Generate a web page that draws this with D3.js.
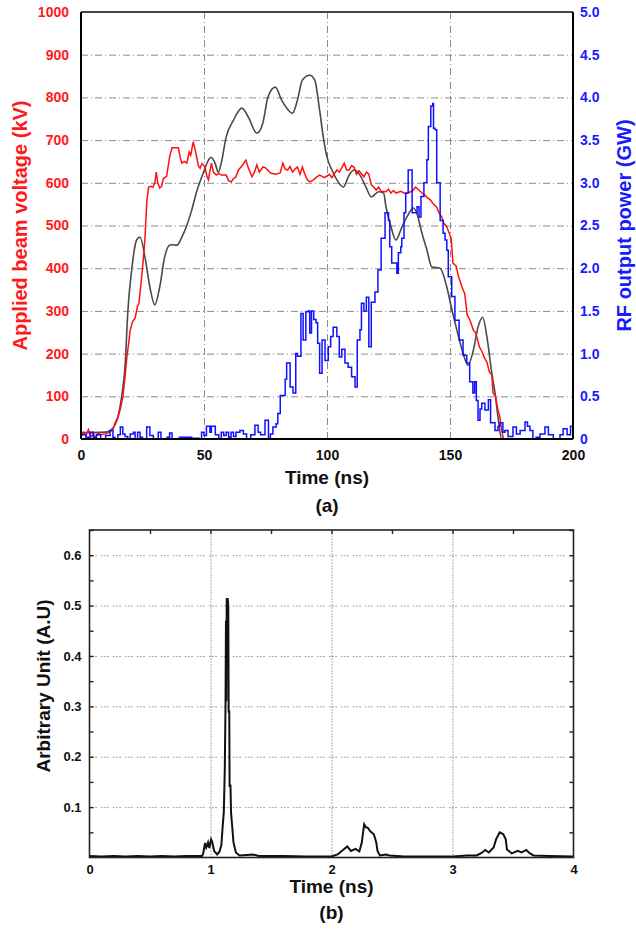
<!DOCTYPE html>
<html>
<head>
<meta charset="utf-8">
<script src="https://cdn.jsdelivr.net/npm/d3@7"></script>
<style>
  body { margin: 0; background: #fff; }
  text { font-family: "Liberation Sans", Arial, sans-serif; font-weight: bold; }
</style>
</head>
<body>
<svg id="chart" width="636" height="929"></svg>
<script>
// (a) beam voltage [ns, kV]
var voltage = [[0,5],[1,15],[2,8],[3,22],[4,5],[5,12],[6,3],[7,15],[8,10],[10,12],[12,18],[13,22],[14,40],[15,50],[16,70],[17,98],[18,150],[18.6,190],[19.5,230],[20,255],[21,275],[22,283],[23,312],[23.5,316],[24.5,370],[25.3,419],[26,470],[26.8,560],[27.5,590],[28.5,592],[29.3,590],[30,600],[30.6,625],[31.2,600],[32,588],[32.8,592],[33.5,610],[34.8,615],[36,660],[37,682],[38,682],[39.6,682],[40.3,660],[41,646],[42,650],[43,646],[44,672],[44.6,665],[45.6,696],[46.3,680],[47,661],[47.7,640],[48.4,634],[49.2,645],[50.4,637],[51.2,615],[51.8,607],[52.5,630],[53,646],[53.8,625],[55,618],[56,622],[57,618],[59,618],[60,605],[61,602],[62,610],[63,614],[64,630],[65.5,640],[67,653],[68,635],[69.5,614],[70.5,625],[71.5,642],[72.5,625],[74,637],[75,635],[77,623],[79,620],[81,623],[82,646],[83,632],[84,630],[85,638],[86,625],[87,632],[88,637],[89,620],[90,637],[91,620],[92,607],[93,602],[94.5,607],[95.5,612],[96.5,616],[97,618],[99,612],[101,620],[102,612],[104,630],[105,625],[106,635],[107,646],[108,630],[109,630],[110,640],[111,637],[112,620],[113,628],[115,614],[116,625],[117,620],[118,595],[119,590],[120,583],[121,590],[122,580],[124,579],[125,585],[126,576],[127,582],[128,576],[130,580],[132,574],[134,579],[135,582],[136,590],[137,585],[138.6,576],[140,570],[141,564],[142,560],[143,552],[144.6,543],[145.5,530],[146.7,520],[147.5,505],[148.7,497],[149.5,485],[150.5,470],[151.2,412],[152.5,405],[153.5,380],[155,354],[156,340],[157,290],[158,280],[159.5,255],[160.5,248],[162,215],[163,205],[164,190],[165,180],[166,157],[167,150],[167.5,108],[168.5,100],[169.5,68],[170.3,50],[171,21],[171.7,0],[200,0]];

// (a) grey trace, left axis [ns, kV]
var greyTrace = [[0,15],[5,15],[10,16],[12,20],[14,35],[15,52],[16.5,98],[18,178],[19,295],[20.6,396],[22.6,466],[24,473],[26,426],[28,356],[30,314],[32,356],[34,426],[36,454],[37,455],[39,454],[41,473],[43,500],[45,536],[47,579],[49.7,623],[51.8,653],[52.8,660],[54.5,646],[55.8,625],[57,646],[59,707],[62,747],[65.4,775],[68,754],[71.5,716],[74,742],[76,801],[79,824],[81.5,794],[83.6,775],[86,763],[88,794],[90,841],[93,852],[95,841],[97,770],[98.5,707],[100,660],[102,630],[104,607],[106.6,590],[109,618],[111,630],[113.4,618],[116,588],[118,567],[121,579],[123,576],[124,543],[126,497],[128,466],[130.5,497],[132.5,520],[135,541],[136.5,529],[138.6,482],[140.6,443],[142.6,403],[146,400],[148.7,356],[150.8,302],[152.8,255],[155.3,201],[157.3,173],[159.5,208],[161.4,262],[163.3,285],[165,239],[167,154],[168.3,108],[169.5,52],[171,0],[200,0]];

// (a) RF output power [ns, GW]
var rfPower = [[0,0.05],[2,0.02],[3.7,0.08],[5,0.02],[6.3,0.05],[8,0],[10,0.04],[11.8,0.1],[13,0.02],[13.8,0],[15,0.05],[16,0.14],[17,0.06],[17.9,0.03],[19,0],[20,0.06],[21.3,0.08],[22,0],[23,0.08],[24,0.02],[25,0],[26.7,0.14],[28,0.04],[29.4,0],[31.4,0.08],[32.5,0],[35,0.02],[36,0.07],[37,0],[40,0.02],[45,0.01],[48,0],[49,0.08],[50,0.04],[51,0.15],[52.4,0.08],[53,0.15],[54.6,0.05],[56,0],[57,0.08],[58,0.04],[59,0.08],[60,0.02],[61,0.08],[62,0.03],[63,0.08],[64.6,0.1],[66,0.06],[67.3,0],[69,0.05],[70.7,0.16],[72,0.08],[73,0.05],[74.8,0.22],[76.2,0],[77,0.06],[78,0.14],[79.3,0.18],[80,0.3],[81,0.51],[82,0.51],[83,0.7],[83.6,0.89],[85,0.61],[86.2,0.54],[87.3,1.0],[88,0.97],[89.4,1.47],[90.3,1.16],[91.4,1.49],[92.3,1.5],[93,1.24],[93.7,1.5],[94.6,1.4],[95.5,1.36],[96.2,1.12],[97,0.77],[98,1.16],[99.2,0.92],[100.5,1.08],[101.5,1.2],[102.5,1.31],[104,1.2],[105,0.96],[106,1.05],[107.3,0.89],[108.6,0.84],[110,0.73],[111.4,0.61],[112.3,1.16],[113.4,1.28],[114,1.59],[115,1.5],[116,1.66],[117,1.08],[118,1.6],[119.5,1.72],[120.7,1.98],[122,2.35],[123.6,2.65],[125,2.56],[125.5,2.25],[126.3,2.06],[128.4,1.94],[129,2.18],[130,2.25],[130.4,2.35],[131.3,2.65],[132,2.88],[133,3.15],[134,3.15],[134.6,2.65],[135.8,2.65],[136.6,2.72],[137.4,2.6],[138.2,2.84],[139.4,3.0],[140.6,3.27],[141.2,3.66],[142.2,3.9],[143,3.93],[143.3,3.64],[143.9,3.62],[144.6,3.0],[146,2.56],[147.2,2.41],[148,2.33],[148.7,2.21],[149.3,1.9],[150.7,1.67],[152,1.39],[153.7,1.16],[155.3,0.98],[156.8,0.89],[158,0.67],[159.3,0.54],[160,0.67],[160.7,0.45],[161.4,0.22],[162.2,0.35],[162.9,0.42],[164.2,0.34],[165.6,0.46],[166.5,0.19],[168.3,0.1],[169.5,0.15],[170.3,0.19],[171.5,0.08],[172.3,0.1],[173.6,0.03],[175.6,0.14],[177,0.06],[178.5,0.1],[180.5,0.2],[181.5,0.15],[182.5,0.1],[183.7,0],[185,0.02],[186.6,0.06],[188.6,0.14],[190,0.05],[192,0],[194.7,0.05],[196,0.12],[197.6,0.05],[199,0.15],[200,0.05]];

// (b) signal [ns, A.U]
var signal = [[0,0.003],[0.1,0.002],[0.2,0.003],[0.3,0.002],[0.4,0.003],[0.5,0.002],[0.6,0.003],[0.7,0.002],[0.8,0.003],[0.93,0.003],[0.94,0.008],[0.955,0.029],[0.965,0.02],[0.98,0.03],[0.99,0.019],[1.005,0.036],[1.015,0.03],[1.03,0.013],[1.055,0.006],[1.075,0.012],[1.09,0.025],[1.1,0.06],[1.11,0.09],[1.118,0.174],[1.124,0.3],[1.128,0.47],[1.131,0.31],[1.134,0.515],[1.138,0.46],[1.142,0.515],[1.147,0.5],[1.15,0.29],[1.155,0.29],[1.158,0.14],[1.165,0.145],[1.17,0.088],[1.18,0.06],[1.19,0.03],[1.21,0.01],[1.24,0.004],[1.3,0.005],[1.35,0.006],[1.4,0.003],[1.6,0.003],[1.8,0.002],[2.0,0.002],[2.05,0.006],[2.1,0.016],[2.13,0.022],[2.16,0.013],[2.2,0.017],[2.23,0.012],[2.25,0.029],[2.27,0.066],[2.285,0.06],[2.3,0.059],[2.32,0.052],[2.35,0.046],[2.37,0.03],[2.38,0.013],[2.4,0.004],[2.45,0.006],[2.48,0.004],[2.6,0.002],[3.0,0.002],[3.12,0.004],[3.2,0.004],[3.24,0.009],[3.27,0.015],[3.3,0.01],[3.34,0.02],[3.36,0.036],[3.39,0.05],[3.42,0.046],[3.44,0.036],[3.45,0.016],[3.49,0.008],[3.54,0.013],[3.57,0.01],[3.61,0.015],[3.64,0.008],[3.67,0.004],[3.8,0.003],[4,0.002]];

var xTicksA = [0, 50, 100, 150, 200],
    kvTicks = d3.range(0, 1001, 100),
    gwTicks = d3.range(0, 5.01, 0.5),
    xTicksB = [0, 1, 2, 3, 4],
    auTicks = [0.1, 0.2, 0.3, 0.4, 0.5, 0.6];

var svg = d3.select("#chart");

// ---------- panel (a) ----------
var pa = { left: 81, right: 573, top: 12, bottom: 439 };

var x = d3.scaleLinear().domain([0, 200]).range([pa.left, pa.right]),
    yL = d3.scaleLinear().domain([0, 1000]).range([pa.bottom, pa.top]),
    yR = d3.scaleLinear().domain([0, 5]).range([pa.bottom, pa.top]);

var ga = svg.append("g");

// grid
ga.append("g")
    .attr("transform", "translate(" + pa.left + ",0)")
    .call(d3.axisLeft(yL).tickValues(kvTicks.slice(1, -1)).tickSize(-(pa.right - pa.left)).tickFormat(""))
    .call(function (g) { g.select(".domain").remove(); })
    .selectAll("line").attr("stroke", "#8a8a8a").attr("stroke-dasharray", "7,3,1,3");

ga.append("g")
    .attr("transform", "translate(0," + pa.bottom + ")")
    .call(d3.axisBottom(x).tickValues([50, 100, 150]).tickSize(-(pa.bottom - pa.top)).tickFormat(""))
    .call(function (g) { g.select(".domain").remove(); })
    .selectAll("line").attr("stroke", "#8a8a8a").attr("stroke-dasharray", "7,3,1,3");

var line = function (ys, curve) {
    return d3.line()
        .curve(curve)
        .x(function (d) { return x(d[0]); })
        .y(function (d) { return ys(d[1]); });
};

ga.append("path").datum(greyTrace)
    .attr("fill", "none").attr("stroke", "#4a4a4a").attr("stroke-width", 1.6)
    .attr("d", line(yL, d3.curveMonotoneX));

ga.append("path").datum(voltage)
    .attr("fill", "none").attr("stroke", "#ff1010").attr("stroke-width", 1.5)
    .attr("d", line(yL, d3.curveLinear));

ga.append("path").datum(rfPower)
    .attr("fill", "none").attr("stroke", "#1010ff").attr("stroke-width", 1.5)
    .attr("d", line(yR, d3.curveStepAfter));

// frame
ga.append("line").attr("x1", pa.left).attr("x2", pa.right).attr("y1", pa.top).attr("y2", pa.top)
    .attr("stroke", "#444").attr("stroke-width", 2);
ga.append("line").attr("x1", pa.left).attr("x2", pa.right).attr("y1", pa.bottom).attr("y2", pa.bottom)
    .attr("stroke", "#000").attr("stroke-width", 2);
ga.append("line").attr("x1", pa.left).attr("x2", pa.left).attr("y1", pa.top).attr("y2", pa.bottom)
    .attr("stroke", "#000").attr("stroke-width", 2);
ga.append("line").attr("x1", pa.right).attr("x2", pa.right).attr("y1", pa.top).attr("y2", pa.bottom)
    .attr("stroke", "#000").attr("stroke-width", 2);

// axes labels
var axL = ga.append("g")
    .attr("transform", "translate(" + pa.left + ",0)")
    .call(d3.axisLeft(yL).tickValues(kvTicks).tickSize(0).tickPadding(12).tickFormat(d3.format("d")));
axL.select(".domain").remove();
axL.selectAll("text").attr("fill", "#ff1a1a").style("font-size", "14px").style("font-family", "'Liberation Sans', Arial").style("font-weight", "bold");

var axR = ga.append("g")
    .attr("transform", "translate(" + pa.right + ",0)")
    .call(d3.axisRight(yR).tickValues(gwTicks).tickSize(0).tickPadding(7)
        .tickFormat(function (d) { return d === 0 ? "0" : d3.format(".1f")(d); }));
axR.select(".domain").remove();
axR.selectAll("text").attr("fill", "#1a1aff").style("font-size", "14px").style("font-family", "'Liberation Sans', Arial").style("font-weight", "bold");

var axB = ga.append("g")
    .attr("transform", "translate(0," + pa.bottom + ")")
    .call(d3.axisBottom(x).tickValues(xTicksA).tickSize(0).tickPadding(11).tickFormat(d3.format("d")));
axB.select(".domain").remove();
axB.selectAll("text").attr("fill", "#111").style("font-size", "14px").style("font-family", "'Liberation Sans', Arial").style("font-weight", "bold");

ga.append("text")
    .attr("transform", "translate(20," + ((pa.top + pa.bottom) / 2) + ") rotate(-90)")
    .attr("text-anchor", "middle").attr("dy", "0.35em")
    .attr("fill", "#ff1a1a").style("font-size", "20px")
    .text("Applied beam voltage (kV)");

ga.append("text")
    .attr("transform", "translate(624," + ((pa.top + pa.bottom) / 2) + ") rotate(-90)")
    .attr("text-anchor", "middle").attr("dy", "0.35em")
    .attr("fill", "#1a1aff").style("font-size", "20px")
    .text("RF output power (GW)");

ga.append("text")
    .attr("x", (pa.left + pa.right) / 2).attr("y", 484)
    .attr("text-anchor", "middle").attr("fill", "#111").style("font-size", "19px")
    .text("Time (ns)");

ga.append("text")
    .attr("x", (pa.left + pa.right) / 2).attr("y", 512)
    .attr("text-anchor", "middle").attr("fill", "#111").style("font-size", "19px")
    .text("(a)");

// ---------- panel (b) ----------
var pb = { left: 89.5, right: 573.5, top: 530, bottom: 857.5 };

var x2 = d3.scaleLinear().domain([0, 4]).range([pb.left, pb.right]),
    y2 = d3.scaleLinear().domain([0, 0.65]).range([pb.bottom, pb.top]);

var gb = svg.append("g");

gb.append("g")
    .attr("transform", "translate(" + pb.left + ",0)")
    .call(d3.axisLeft(y2).tickValues(auTicks).tickSize(-(pb.right - pb.left)).tickFormat(""))
    .call(function (g) { g.select(".domain").remove(); })
    .selectAll("line").attr("stroke", "#555").attr("stroke-dasharray", "1,2,1,2,1,5");

gb.append("g")
    .attr("transform", "translate(0," + pb.bottom + ")")
    .call(d3.axisBottom(x2).tickValues([1, 2, 3]).tickSize(-(pb.bottom - pb.top)).tickFormat(""))
    .call(function (g) { g.select(".domain").remove(); })
    .selectAll("line").attr("stroke", "#555").attr("stroke-dasharray", "1,2");

gb.append("path").datum(signal)
    .attr("fill", "none").attr("stroke", "#111").attr("stroke-width", 2)
    .attr("d", d3.line()
        .x(function (d) { return x2(d[0]); })
        .y(function (d) { return y2(d[1]); }));

gb.append("rect")
    .attr("x", pb.left).attr("y", pb.top)
    .attr("width", pb.right - pb.left).attr("height", pb.bottom - pb.top)
    .attr("fill", "none").attr("stroke", "#222").attr("stroke-width", 1.6);

var minorY = d3.range(0.05, 0.651, 0.05),
    minorX = d3.range(0.5, 3.51, 0.5);

var bL = gb.append("g")
    .attr("transform", "translate(" + pb.left + ",0)")
    .call(d3.axisLeft(y2).tickValues(minorY).tickSize(-4).tickPadding(8)
        .tickFormat(function (d) { return auTicks.some(function (t) { return Math.abs(t - d) < 1e-6; }) ? d3.format(".1f")(d) : ""; }));
bL.select(".domain").remove();

var bR = gb.append("g")
    .attr("transform", "translate(" + pb.right + ",0)")
    .call(d3.axisRight(y2).tickValues(minorY).tickSize(-4).tickFormat(""));
bR.select(".domain").remove();

var bT = gb.append("g")
    .attr("transform", "translate(0," + pb.top + ")")
    .call(d3.axisTop(x2).tickValues(minorX).tickSize(-4).tickFormat(""));
bT.select(".domain").remove();

var bB = gb.append("g")
    .attr("transform", "translate(0," + pb.bottom + ")")
    .call(d3.axisBottom(x2).tickValues(xTicksB).tickSize(0).tickPadding(7).tickFormat(d3.format("d")));
bB.select(".domain").remove();

gb.selectAll(".tick line").filter(function () { return this.getAttribute("stroke-dasharray") === null; })
    .attr("stroke", "#222").attr("stroke-width", 1.4);
gb.selectAll(".tick text").attr("fill", "#111").style("font-size", "13px")
    .style("font-family", "'Liberation Sans', Arial").style("font-weight", "bold");

gb.append("text")
    .attr("transform", "translate(43," + 686 + ") rotate(-90)")
    .attr("text-anchor", "middle").attr("dy", "0.35em")
    .attr("fill", "#111").style("font-size", "19px")
    .text("Arbitrary Unit (A.U)");

gb.append("text")
    .attr("x", (pb.left + pb.right) / 2).attr("y", 893)
    .attr("text-anchor", "middle").attr("fill", "#111").style("font-size", "19px")
    .text("Time (ns)");

gb.append("text")
    .attr("x", (pb.left + pb.right) / 2).attr("y", 919)
    .attr("text-anchor", "middle").attr("fill", "#111").style("font-size", "19px")
    .text("(b)");
</script>
</body>
</html>
